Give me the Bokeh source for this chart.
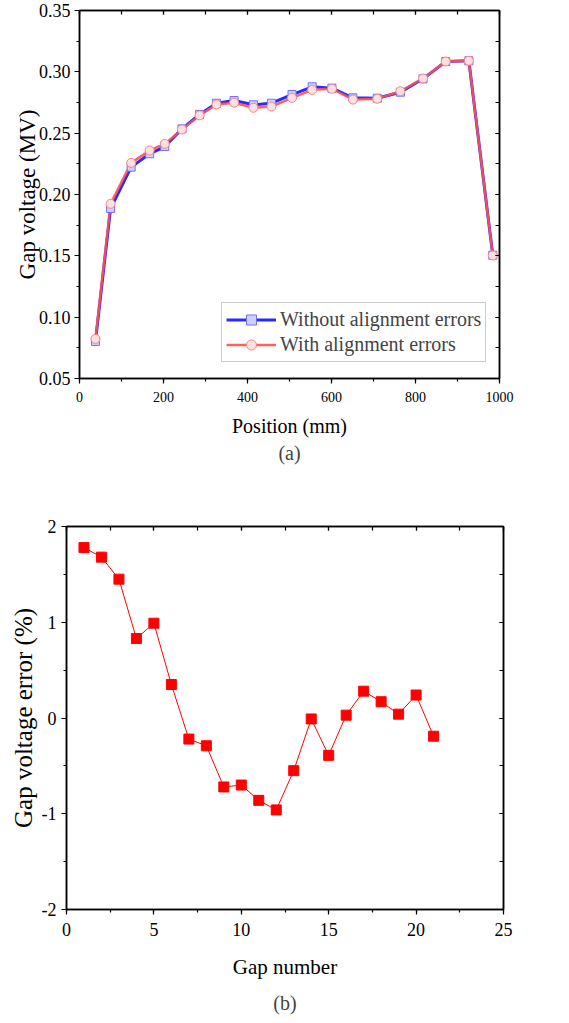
from bokeh.plotting import figure
from bokeh.layouts import column, row
from bokeh.models import (SingleIntervalTicker, LinearAxis, NumeralTickFormatter,
                          CustomJSTickFormatter, Title, Legend, LegendItem)
from bokeh.embed import file_html
from bokeh.resources import INLINE

# ---- data (a) ----
position_mm = [38, 74, 123, 167, 203, 244, 286, 326, 368, 414, 457,
               506, 554, 601, 651, 709, 764, 818, 872, 927, 984]
v_without = [0.0802, 0.1886, 0.2223, 0.2332, 0.2391, 0.2535, 0.2652, 0.2744,
             0.2766, 0.2731, 0.2744, 0.2815, 0.2878, 0.2867, 0.2788, 0.2785,
             0.2834, 0.2943, 0.3084, 0.3090, 0.1505]
v_with = [0.0823, 0.1924, 0.2258, 0.2359, 0.2413, 0.2530, 0.2645, 0.2734,
          0.2748, 0.2707, 0.2717, 0.2788, 0.2853, 0.2862, 0.2774, 0.2780,
          0.2842, 0.2946, 0.3084, 0.3090, 0.1503]

# ---- data (b) ----
gap_number = list(range(1, 22))
gap_error = [1.78, 1.68, 1.45, 0.83, 0.99, 0.35, -0.22, -0.29, -0.72, -0.70,
             -0.86, -0.96, -0.55, -0.01, -0.39, 0.03, 0.28, 0.17, 0.04, 0.24, -0.19]

FONT = "Liberation Serif"


def style_axes(p, xint, yint, xfs, yfs, xlabel, ylabel, xlfs, ylfs):
    xa = p.below[0]
    ya = p.left[0]
    for ax in (xa, ya):
        ax.axis_line_width = 1.5
        ax.axis_line_color = "black"
        ax.major_tick_line_color = "black"
        ax.minor_tick_line_color = "black"
        ax.major_tick_line_width = 1.2
        ax.minor_tick_line_width = 1.2
        ax.major_tick_in = 0
        ax.major_tick_out = 5
        ax.minor_tick_in = 0
        ax.minor_tick_out = 3
        ax.major_label_text_font = FONT
        ax.axis_label_text_font = FONT
        ax.axis_label_text_font_style = "normal"
        ax.axis_label_text_color = "black"
        ax.major_label_text_color = "black"
    xa.ticker = SingleIntervalTicker(interval=xint, num_minor_ticks=2)
    ya.ticker = SingleIntervalTicker(interval=yint, num_minor_ticks=2)
    xa.major_label_text_font_size = xfs
    ya.major_label_text_font_size = yfs
    xa.axis_label = xlabel
    ya.axis_label = ylabel
    xa.axis_label_text_font_size = xlfs
    ya.axis_label_text_font_size = ylfs
    p.xgrid.visible = False
    p.ygrid.visible = False
    p.outline_line_color = "black"
    p.outline_line_width = 1.5
    blank = CustomJSTickFormatter(code="return ''")
    top = LinearAxis(ticker=SingleIntervalTicker(interval=xint, num_minor_ticks=2),
                     formatter=blank, major_label_standoff=0,
                     major_tick_in=4, major_tick_out=0, minor_tick_in=4, minor_tick_out=0,
                     axis_line_width=1.5,
                     major_tick_line_width=1.2, minor_tick_line_width=1.2)
    right = LinearAxis(ticker=SingleIntervalTicker(interval=yint, num_minor_ticks=2),
                       formatter=blank, major_label_standoff=0,
                       major_tick_in=4, major_tick_out=0, minor_tick_in=4, minor_tick_out=0,
                       axis_line_width=1.5,
                       major_tick_line_width=1.2, minor_tick_line_width=1.2)
    p.add_layout(top, "above")
    p.add_layout(right, "right")
    return xa, ya


# ---------------- figure (a) ----------------
p1 = figure(width=569, height=490, x_range=(0, 1000), y_range=(0.05, 0.3500001),
            output_backend="svg", toolbar_location=None, title=None,
            min_border_left=79, min_border_right=70, min_border_top=10,
            min_border_bottom=112, background_fill_color="white",
            border_fill_color="white")
xa1, ya1 = style_axes(p1, 200, 0.05, "14px", "18px",
                      "Position (mm)", "Gap voltage (MV)", "20px", "23px")
ya1.formatter = NumeralTickFormatter(format="0.00")
xa1.major_label_standoff = 8
xa1.axis_label_standoff = 10
ya1.major_label_standoff = 4
ya1.axis_label_standoff = -4

l_blue = p1.line(position_mm, v_without, line_color="#2a2aff", line_width=3)
l_red = p1.line(position_mm, v_with, line_color="#ff5050", line_width=2.5, line_alpha=0.9)
s_blue = p1.scatter(position_mm, v_without, marker="square", size=8,
                    fill_color="#d0d0ff", line_color="#6f6fff", line_width=1)
s_red = p1.scatter(position_mm, v_with, marker="circle", size=9,
                   fill_color="#ffe0e0", line_color="#ff8080", line_width=1)

legend = Legend(items=[LegendItem(label="Without alignment errors", renderers=[l_blue, s_blue]),
                       LegendItem(label="With alignment errors", renderers=[l_red, s_red])],
                location=(142, 16), label_text_font=FONT, label_text_font_size="20px",
                label_height=25, glyph_height=25, glyph_width=50, spacing=0,
                padding=4, margin=0, label_standoff=4,
                border_line_color="#999999", border_line_width=1,
                background_fill_color="white", background_fill_alpha=1)
p1.add_layout(legend, "center")

cap_a = Title(text="(a)", align="center", text_font=FONT, text_font_size="20px",
              text_font_style="normal", standoff=0)
p1.add_layout(cap_a, "below")

# ---------------- figure (b) ----------------
p2 = figure(width=569, height=533, x_range=(0, 25), y_range=(-2, 2),
            output_backend="svg", toolbar_location=None, title=None,
            min_border_left=66, min_border_right=66, min_border_top=36,
            min_border_bottom=114, background_fill_color="white",
            border_fill_color="white")
xa2, ya2 = style_axes(p2, 5, 1, "18px", "18px",
                      "Gap number", "Gap voltage error (%)", "21px", "25px")
ya2.formatter = NumeralTickFormatter(format="0")
xa2.major_label_standoff = 8
xa2.axis_label_standoff = 16
ya2.major_label_standoff = 5
ya2.axis_label_standoff = 2

p2.line(gap_number, gap_error, line_color="#ff0000", line_width=1)
p2.scatter(gap_number, gap_error, marker="square", size=10,
           fill_color="#ff0000", line_color="#ff0000")

cap_b = Title(text="(b)", align="center", text_font=FONT, text_font_size="20px",
              text_font_style="normal", standoff=16)
p2.add_layout(cap_b, "below")

layout = column(row(p1), row(p2), spacing=0)
open("out.html", "w").write(file_html(layout, INLINE))
